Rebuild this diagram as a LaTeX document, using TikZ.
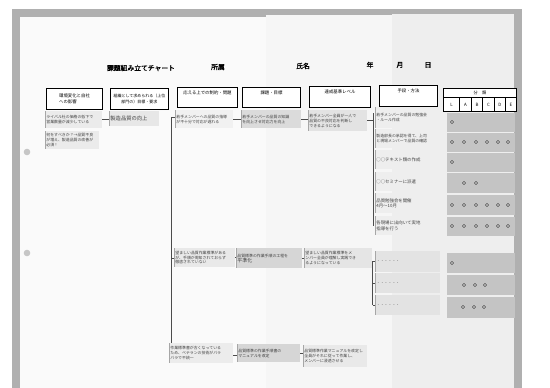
\documentclass[tikz,border=0pt]{standalone}
\usepackage{fontspec}
\newfontfamily\jp{Noto Sans CJK JP}
\newfontfamily\jpb[FakeBold=1.6]{Noto Sans CJK JP}
\XeTeXlinebreaklocale "ja"
\XeTeXlinebreakskip=0pt plus 1pt
\begin{document}
\begin{tikzpicture}[x=1pt,y=-1pt,
  hdr/.style={draw=black,line width=1pt,fill=white,anchor=north west,inner sep=0pt},
  htxt/.style={font=\jp\fontsize{4.4}{5.8}\selectfont,inner sep=0pt},
  ttl/.style={font=\jpb\fontsize{6.8}{7}\selectfont,inner sep=0pt},
  note/.style={anchor=north west,inner sep=1.2pt,align=left,text=black!75,
    font=\jp\fontsize{3.9}{4.8}\selectfont,
    path picture={\fill[black!35] (path picture bounding box.north west) rectangle ([xshift=1pt]path picture bounding box.south west);}},
  sz/.style 2 args={text width=#1pt,minimum height=#2pt},
  bar/.style={anchor=north west,inner sep=0pt,fill=gray!46,minimum width=68pt},
  conn/.style={draw=black!70,line width=0.5pt},
  dotmk/.style={draw=black!80,line width=0.4pt}
]
\useasboundingbox (0,0) rectangle (550,388);
% photo background and paper
\fill[white] (0,0) rectangle (550,388);
\fill[gray!62] (12,9) rectangle (522,388);
\fill[gray!4] (20,17) rectangle (266,388);
\fill[gray!7] (266,15) rectangle (392,388);
\fill[gray!13] (392,14) rectangle (514,388);
\fill[gray!45] (27,152) circle (3.3);
\fill[gray!45] (27,253) circle (3.3);

% title line
\node[ttl] (title) at (141,68) {課題組み立てチャート};
\node[ttl] (shozoku) at (218,67) {所属};
\node[ttl] (shimei) at (303,66) {氏名};
\node[ttl] (nen) at (370,65) {年};
\node[ttl] (tsuki) at (400,65) {月};
\node[ttl] (hi) at (428,65) {日};

% header boxes
\node[hdr,minimum width=56pt,minimum height=21pt] (h1) at (46,88) {};
\node[htxt,align=left] (h1t) at (h1.center) {環境変化と自社\\への影響};
\node[hdr,minimum width=58pt,minimum height=21pt] (h2) at (110,88) {};
\node[htxt,align=center,font=\jp\fontsize{4}{6}\selectfont] (h2t) at (h2.center) {組織として求められる（上位\\部門の）目標・要求};
\node[hdr,minimum width=60pt,minimum height=20pt] (h3) at (177,87) {};
\node[htxt,anchor=north] (h3t) at ([yshift=-4pt]h3.north) {応える上での制約・問題};
\node[hdr,minimum width=58pt,minimum height=20pt] (h4) at (242,87) {};
\node[htxt,anchor=north] (h4t) at ([yshift=-4pt]h4.north) {課題・目標};
\node[hdr,minimum width=61pt,minimum height=21pt] (h5) at (309,86) {};
\node[htxt,anchor=north] (h5t) at ([yshift=-4pt]h5.north) {達成基準レベル};
\node[hdr,minimum width=58pt,minimum height=21pt] (h6) at (379,85) {};
\node[htxt,anchor=north] (h6t) at ([yshift=-4pt]h6.north) {手段・方法};
% classification header
\node[hdr,minimum width=73pt,minimum height=9pt,font=\jp\fontsize{4.2}{5}\selectfont] (cls) at (443,88) {分\quad 類};
\node[hdr,minimum width=16pt,minimum height=14pt,font=\jp\fontsize{4.4}{5}\selectfont] (cL) at (443,97) {L};
\node[hdr,minimum width=12pt,minimum height=14pt,font=\jp\fontsize{4.4}{5}\selectfont] (cA) at (459,97) {A};
\node[hdr,minimum width=11pt,minimum height=14pt,font=\jp\fontsize{4.4}{5}\selectfont] (cB) at (471,97) {B};
\node[hdr,minimum width=12pt,minimum height=14pt,font=\jp\fontsize{4.4}{5}\selectfont] (cC) at (482,97) {C};
\node[hdr,minimum width=11pt,minimum height=14pt,font=\jp\fontsize{4.4}{5}\selectfont] (cD) at (494,97) {D};
\node[hdr,minimum width=11pt,minimum height=14pt,font=\jp\fontsize{4.4}{5}\selectfont] (cE) at (505,97) {E};

% ---- row 1 notes
\node[note,fill=gray!16,sz={54.6}{17}] (c1a) at (45,111) {ライバル社の価格の低下で\\営業数量が減少している};
\node[note,fill=gray!16,sz={51.6}{18}] (c1b) at (45,131) {何をすべきか？→品質不良\\が増え、製造品質の改善が\\必須！};
\node[note,fill=gray!19,sz={47.6}{15},font=\jp\fontsize{5.3}{6}\selectfont] (c2) at (109,111) {製造品質の向上};
\node[note,fill=gray!11,sz={55.6}{18}] (c3r1) at (175,110) {若手メンバーへの品質の指導\\が不十分で対応が遅れる};
\node[note,fill=gray!28,sz={57.6}{18}] (c4r1) at (241,110) {若手メンバーの品質の知識\\を向上させ対応力を向上};
\node[note,fill=gray!22,sz={56.6}{21}] (c5r1) at (308,110) {若手メンバー全員が一人で\\品質の不良対応を判断し\\できるようになる};
% col 6 notes
\node[note,fill=gray!13,sz={61.6}{21}] (n1) at (375,107) {若手メンバーの品質の勉強会\\・ルール作成};
\node[note,fill=gray!13,sz={61.6}{19}] (n2) at (375,129) {製造部長の承認を得て、上司\\と現場メンバーで品質の確認};
\node[note,fill=gray!13,sz={61.6}{19},font=\jp\fontsize{4.4}{5}\selectfont] (n3) at (375,150) {○○テキスト類の作成};
\node[note,fill=gray!13,sz={61.6}{19},font=\jp\fontsize{4.4}{5}\selectfont] (n4) at (375,172) {○○セミナーに派遣};
\node[note,fill=gray!13,sz={61.6}{20},font=\jp\fontsize{4.4}{5.4}\selectfont] (n5) at (375,193) {品質勉強会を開催\\4月〜10月};
\node[note,fill=gray!13,sz={61.6}{19},font=\jp\fontsize{4.4}{5.4}\selectfont] (n6) at (375,216) {各現場に出向いて実地\\指導を行う};
% classification bars
\node[bar,minimum height=19pt] (b1) at (447,113) {};
\node[bar,minimum height=19pt] (b2) at (447,133) {};
\node[bar,minimum height=19pt] (b3) at (447,153) {};
\node[bar,minimum height=20pt] (b4) at (447,173) {};
\node[bar,minimum height=20pt] (b5) at (447,195) {};
\node[bar,minimum height=19pt] (b6) at (447,217) {};
\draw[dotmk] (452,122) circle (1.6);
\foreach \x in {452,464,476,487,498,508} \draw[dotmk] (\x,142) circle (1.6);
\draw[dotmk] (452,162) circle (1.6);
\foreach \x in {464,476} \draw[dotmk] (\x,183) circle (1.6);
\foreach \x in {452,464,476,487,498,508} \draw[dotmk] (\x,205) circle (1.6);
\foreach \x in {452,464,476,487,498,508} \draw[dotmk] (\x,226) circle (1.6);

% ---- row 2 notes
\node[note,fill=gray!17,sz={58.6}{19}] (c3r2) at (174,248) {望ましい品質作業標準がある\\が、手順が周知されておらず\\徹底されていない};
\node[note,fill=gray!32,sz={63.6}{20}] (c4r2) at (236,248) {品質標準の作業手順の工程を\\{\fontsize{5}{6}\selectfont 平準化}};
\node[note,fill=gray!20,sz={65.6}{20}] (c5r2) at (304,248) {望ましい品質作業標準をメ\\ンバー全員が理解し実践でき\\るようになっている};
\node[note,fill=gray!22,sz={62.6}{21}] (m1) at (375,251) {・・・・・・};
\node[note,fill=gray!22,sz={62.6}{20}] (m2) at (375,273) {・・・・・・};
\node[note,fill=gray!22,sz={62.6}{20}] (m3) at (375,295) {・・・・・・};
\node[bar,minimum height=20pt] (d1) at (447,253) {};
\node[bar,minimum height=20pt] (d2) at (447,275) {};
\node[bar,minimum height=21pt] (d3) at (447,297) {};
\draw[dotmk] (452,263) circle (1.6);
\foreach \x in {464,475,485} \draw[dotmk] (\x,285) circle (1.6);
\foreach \x in {463,474,484} \draw[dotmk] (\x,307) circle (1.6);

% ---- row 3 notes
\node[note,fill=gray!15,sz={61.6}{20}] (c3r3) at (169,343) {作業標準書が古くなっている\\ため、ベテランの技術がバラ\\バラで不統一};
\node[note,fill=gray!32,sz={60.6}{18}] (c4r3) at (237,344) {品質標準の作業手順書の\\マニュアルを改定};
\node[note,fill=gray!17,sz={61.6}{22}] (c5r3) at (303,345) {品質標準作業マニュアルを改定し\\全員がそれに従って作業し、\\メンバーに浸透させる};

% ---- connectors
\draw[conn] (c1a.east) -- (c1a.east -| c2.west);
\draw[conn] (c3r1.east) -- (c3r1.east -| c4r1.west);
\draw[conn] (c4r1.east) -- (c4r1.east -| c5r1.west);
\coordinate (brA) at (373.5,113);
\coordinate (brB) at (373.5,226);
\draw[conn] (brA) -- (brB);
\draw[conn] (c5r1.east) -- (c5r1.east -| brA);
% trunk
\coordinate (trTop) at (171.5,117);
\coordinate (trMid) at (171.5,258);
\coordinate (trBot) at (171.5,343);
\draw[conn] (trTop) -- (trBot);
\draw[conn] (trTop) -- (trTop -| c3r1.west);
\draw[conn] (trMid) -- (trMid -| c3r2.west);
% row 2
\draw[conn] (c3r2.east) -- (c3r2.east -| c4r2.west);
\draw[conn] (c4r2.east) -- (c4r2.east -| c5r2.west);
\coordinate (brC) at (372.5,261);
\coordinate (brD) at (372.5,305);
\draw[conn] (brC) -- (brD);
\draw[conn] (brC) -- (brC -| m1.west);
\draw[conn] (m2.west -| brC) -- (m2.west);
\draw[conn] (brD) -- (brD -| m3.west);
% row 3
\draw[conn] ([yshift=-2pt]c3r3.east) -- ([yshift=-2pt]c3r3.east -| c4r3.west);
\draw[conn] (c4r3.east) -- (c4r3.east -| c5r3.west);
\end{tikzpicture}
\end{document}
